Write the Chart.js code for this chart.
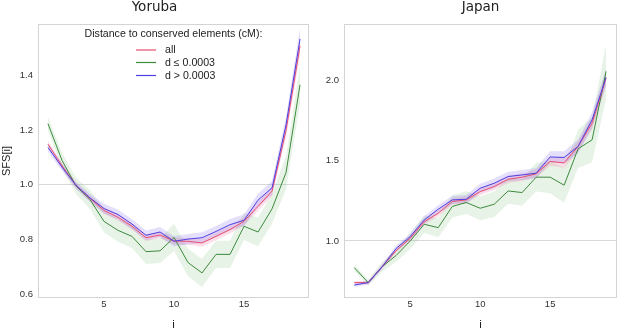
<!DOCTYPE html>
<html>
<head>
<meta charset="utf-8">
<script src="https://cdn.jsdelivr.net/npm/chart.js@4.4.1/dist/chart.umd.min.js"></script>
<style>
  html, body { margin: 0; padding: 0; background: #ffffff; }
  #wrap { position: relative; width: 617px; height: 330px; overflow: hidden; }
  canvas { position: absolute; top: 0; }
</style>
</head>
<body>
<div id="wrap">
  <canvas id="left" width="328" height="330" style="left:0px"></canvas>
  <canvas id="right" width="307" height="330" style="left:310px"></canvas>
</div>
<script>
// ---------- data ----------
const iValues = [1,2,3,4,5,6,7,8,9,10,11,12,13,14,15,16,17,18,19];
const xTicks = [5, 10, 15];

const yorubaTicks = [0.6, 0.8, 1.0, 1.2, 1.4];
const yorubaAll   = [1.149,1.070,0.998,0.950,0.906,0.881,0.848,0.806,0.816,0.794,0.793,0.787,0.811,0.836,0.866,0.921,0.977,1.200,1.510];
const yorubaNear  = [1.224,1.090,0.996,0.946,0.866,0.833,0.811,0.755,0.758,0.807,0.715,0.677,0.745,0.745,0.848,0.827,0.912,1.045,1.367];
const yorubaFar   = [1.137,1.065,0.998,0.952,0.913,0.891,0.856,0.815,0.827,0.793,0.801,0.806,0.829,0.854,0.870,0.944,0.989,1.220,1.535];
const yorubaAllCI  = [0.012,0.010,0.010,0.010,0.012,0.012,0.012,0.012,0.012,0.013,0.013,0.014,0.014,0.014,0.015,0.016,0.018,0.025,0.035];
const yorubaNearCI = [0.025,0.028,0.030,0.035,0.040,0.042,0.043,0.045,0.045,0.050,0.050,0.052,0.050,0.050,0.050,0.052,0.055,0.060,0.070];
const yorubaFarCI  = [0.015,0.013,0.013,0.015,0.018,0.018,0.018,0.018,0.018,0.019,0.019,0.020,0.020,0.021,0.022,0.023,0.025,0.030,0.040];

const japanTicks = [1.0, 1.5, 2.0];
const japanAll   = [0.740,0.740,0.840,0.940,1.017,1.120,1.173,1.246,1.256,1.308,1.340,1.385,1.398,1.419,1.496,1.487,1.590,1.735,2.017];
const japanNear  = [0.833,0.740,0.840,0.910,1.000,1.104,1.083,1.215,1.240,1.204,1.229,1.312,1.302,1.398,1.398,1.348,1.575,1.631,2.058];
const japanFar   = [0.725,0.740,0.840,0.954,1.027,1.131,1.198,1.256,1.260,1.329,1.360,1.402,1.412,1.423,1.524,1.521,1.590,1.756,2.020];
const japanAllCI  = [0.010,0.010,0.012,0.014,0.016,0.018,0.020,0.020,0.021,0.022,0.022,0.023,0.024,0.025,0.027,0.030,0.033,0.038,0.045];
const japanNearCI = [0.020,0.020,0.030,0.040,0.050,0.055,0.060,0.070,0.070,0.075,0.080,0.080,0.082,0.090,0.100,0.110,0.120,0.140,0.170];
const japanFarCI  = [0.012,0.012,0.015,0.018,0.020,0.023,0.025,0.026,0.027,0.028,0.029,0.030,0.031,0.032,0.035,0.038,0.042,0.048,0.055];

const legendTitle = 'Distance to conserved elements (cM):';
const seriesNames = ['all', 'd \u2264 0.0003', 'd > 0.0003'];

// ---------- styles ----------
const COLORS = {
  all:  { line: '#e8506e', band: 'rgba(240,110,150,0.22)' },
  near: { line: '#3c8a3c', band: 'rgba(110,185,110,0.17)' },
  far:  { line: '#4c3ee0', band: 'rgba(130,110,240,0.22)' }
};
const TICK_FONT = { family: 'Liberation Sans, Arial, sans-serif', size: 9.5 };
const TICK_COLOR = '#333333';

function pts(vals) { return iValues.map((x, k) => ({ x: x, y: vals[k] })); }
function lo(vals, ci) { return iValues.map((x, k) => ({ x: x, y: vals[k] - ci[k] })); }
function hi(vals, ci) { return iValues.map((x, k) => ({ x: x, y: vals[k] + ci[k] })); }

function buildDatasets(all, near, far, allCI, nearCI, farCI) {
  const ds = [];
  const groups = [
    ['near', near, nearCI, 3],
    ['all', all, allCI, 2],
    ['far', far, farCI, 1]
  ];
  groups.forEach(([key, vals, ci, ord]) => {
    const base = ds.length;
    ds.push({ data: lo(vals, ci), borderWidth: 0, pointRadius: 0, fill: false, order: 10 + ord, label: '_lo' });
    ds.push({ data: hi(vals, ci), borderWidth: 0, pointRadius: 0, fill: { target: base }, backgroundColor: COLORS[key].band, order: 10 + ord, label: '_hi' });
  });
  ds.push({ data: pts(near), borderColor: COLORS.near.line, borderWidth: 1, pointRadius: 0, fill: false, order: 3, label: seriesNames[1] });
  ds.push({ data: pts(all), borderColor: COLORS.all.line, borderWidth: 1, pointRadius: 0, fill: false, order: 2, label: seriesNames[0] });
  ds.push({ data: pts(far), borderColor: COLORS.far.line, borderWidth: 1, pointRadius: 0, fill: false, order: 1, label: seriesNames[2] });
  return ds;
}

const boxPlugin = {
  id: 'box',
  beforeDatasetsDraw(chart) {
    const a = chart.chartArea, ctx = chart.ctx;
    ctx.save();
    ctx.strokeStyle = '#d4d4d4';
    ctx.lineWidth = 1;
    ctx.strokeRect(Math.round(a.left) + 0.5, Math.round(a.top) + 0.5, Math.round(a.right - a.left) - 1, Math.round(a.bottom - a.top) - 1);
    ctx.restore();
  }
};

const legendPlugin = {
  id: 'insideLegend',
  afterDraw(chart) {
    const a = chart.chartArea, ctx = chart.ctx;
    const cx = (a.left + a.right) / 2;
    ctx.save();
    ctx.font = '10.6px "Liberation Sans", Arial, sans-serif';
    ctx.fillStyle = '#222222';
    ctx.textBaseline = 'middle';
    ctx.textAlign = 'center';
    ctx.fillText(legendTitle, cx, 34);
    const rows = [[seriesNames[0], COLORS.all.line, 50], [seriesNames[1], COLORS.near.line, 62.5], [seriesNames[2], COLORS.far.line, 75.5]];
    ctx.textAlign = 'left';
    rows.forEach(([txt, col, y]) => {
      ctx.strokeStyle = col;
      ctx.lineWidth = 1.2;
      ctx.beginPath();
      ctx.moveTo(136, y);
      ctx.lineTo(156, y);
      ctx.stroke();
      ctx.fillText(txt, 165, y + 0.5);
    });
    ctx.restore();
  }
};

function makeChart(id, opts) {
  return new Chart(document.getElementById(id), {
    type: 'line',
    data: { datasets: buildDatasets(opts.all, opts.near, opts.far, opts.allCI, opts.nearCI, opts.farCI) },
    plugins: opts.legend ? [boxPlugin, legendPlugin] : [boxPlugin],
    options: {
      responsive: false,
      animation: false,
      devicePixelRatio: 1,
      layout: { padding: { left: 0, right: opts.padRight, top: 0, bottom: 0 } },
      plugins: {
        legend: { display: false },
        tooltip: { enabled: false },
        title: {
          display: true,
          text: opts.title,
          fullSize: opts.titleFull,
          color: '#222222',
          font: { family: 'DejaVu Sans, sans-serif', size: 13.5, weight: 'normal', lineHeight: 1.05 },
          padding: { top: 0, bottom: 9.8 }
        }
      },
      scales: {
        x: {
          type: 'linear',
          min: opts.xMin, max: opts.xMax,
          afterBuildTicks: s => { s.ticks = xTicks.map(v => ({ value: v })); },
          afterFit: s => { s.height = 32; },
          grid: { display: false, drawTicks: false },
          border: { display: false },
          ticks: { font: TICK_FONT, color: TICK_COLOR, padding: 1, maxRotation: 0, callback: v => String(v) },
          title: { display: true, text: 'i', color: '#222222', font: { family: 'Liberation Sans, Arial, sans-serif', size: 11.5, lineHeight: 0.85 }, padding: { top: 0, bottom: 0 } }
        },
        y: {
          type: 'linear',
          min: opts.yMin, max: opts.yMax,
          afterBuildTicks: s => { s.ticks = opts.yTicks.map(v => ({ value: v })); },
          afterFit: s => { s.width = opts.yWidth; },
          grid: {
            drawTicks: false,
            color: c => (c.tick && Math.abs(c.tick.value - 1) < 1e-9) ? '#d9d9d9' : 'rgba(0,0,0,0)',
            lineWidth: 1
          },
          border: { display: false },
          ticks: { font: TICK_FONT, color: TICK_COLOR, padding: 5, callback: v => Number(v).toFixed(1) },
          title: opts.yTitle ? { display: true, text: 'SFS[i]', color: '#222222', font: { family: 'Liberation Sans, Arial, sans-serif', size: 11, lineHeight: 1.2 }, padding: { top: 0.8, bottom: 0 } } : { display: false }
        }
      }
    }
  });
}

makeChart('left', {
  title: 'Yoruba', titleFull: true, legend: true, yTitle: true,
  all: yorubaAll, near: yorubaNear, far: yorubaFar,
  allCI: yorubaAllCI, nearCI: yorubaNearCI, farCI: yorubaFarCI,
  xMin: 0.286, xMax: 19.64, yMin: 0.585, yMax: 1.59, yTicks: yorubaTicks,
  yWidth: 38, padRight: 19
});

makeChart('right', {
  title: 'Japan', titleFull: false, legend: false, yTitle: false,
  all: japanAll, near: japanNear, far: japanFar,
  allCI: japanAllCI, nearCI: japanNearCI, farCI: japanFarCI,
  xMin: 0.264, xMax: 19.78, yMin: 0.644, yMax: 2.354, yTicks: japanTicks,
  yWidth: 34, padRight: 0
});
</script>
</body>
</html>
